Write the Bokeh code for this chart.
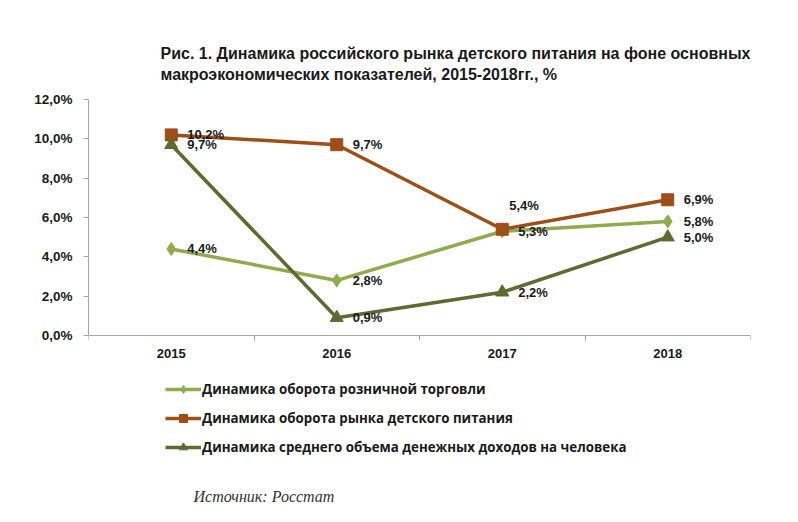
from bokeh.plotting import figure
from bokeh.models import (FixedTicker, Legend, LegendItem, ColumnDataSource, LabelSet, Label)
from bokeh.core.properties import value
from bokeh.embed import file_html
from bokeh.resources import INLINE

years = ["2015", "2016", "2017", "2018"]
retail = [4.4, 2.8, 5.3, 5.8]
babyfood = [10.2, 9.7, 5.4, 6.9]
income = [9.7, 0.9, 2.2, 5.0]
series_names = [
    "Динамика оборота розничной торговли",
    "Динамика оборота рынка детского питания",
    "Динамика среднего объема денежных доходов на человека",
]
y_ticks = [0, 2, 4, 6, 8, 10, 12]
title_lines = [
    "Рис. 1. Динамика российского рынка детского питания на фоне основных",
    "макроэкономических показателей, 2015-2018гг., %",
]
source_note = "Источник: Росстат"

colors = ["#8FAB4E", "#9E4E17", "#5C6B30"]
markers = ["diamond", "square", "triangle"]
marker_sizes = [13, 12, 13]

W, H = 798, 522
FL, FT, FB = 88, 0, 512   # frame left / top / bottom (canvas px)
Y12_PX, Y0_PX = 99, 335   # canvas px of value 12 and value 0
ppu = (Y0_PX - Y12_PX) / 12.0
y_hi = 12 + (Y12_PX - FT) / ppu
y_lo = -(FB - Y0_PX) / ppu

p = figure(width=W, height=H, output_backend="svg", toolbar_location=None,
           x_range=(-0.5, 3.5), y_range=(y_lo, y_hi), title=None,
           min_border_left=FL, min_border_right=48, min_border_top=FT, min_border_bottom=H - FB)
p.outline_line_color = None
p.grid.visible = False
p.background_fill_color = "white"
p.border_fill_color = "white"

xs = list(range(len(years)))
p.xaxis.fixed_location = 0
p.xaxis.ticker = FixedTicker(ticks=xs, minor_ticks=[i - 0.5 for i in range(len(years) + 1)])
p.xaxis.major_label_overrides = {i: y for i, y in enumerate(years)}
p.xaxis.major_tick_line_color = None
p.xaxis.minor_tick_in = 0
p.xaxis.minor_tick_out = 5
p.xaxis.minor_tick_line_color = "#A6A6A6"
p.xaxis.axis_line_color = "#A6A6A6"
p.xaxis.major_label_standoff = 7

p.yaxis.bounds = (0, 12)
p.yaxis.ticker = FixedTicker(ticks=y_ticks, minor_ticks=[])
p.yaxis.major_label_overrides = {t: f"{t:.1f}".replace(".", ",") + "%" for t in y_ticks}
p.yaxis.major_tick_in = 0
p.yaxis.major_tick_out = 5
p.yaxis.major_tick_line_color = "#A6A6A6"
p.yaxis.axis_line_color = "#A6A6A6"
p.yaxis.major_label_standoff = 11

for ax in (p.xaxis, p.yaxis):
    ax.major_label_text_font = "Liberation Sans"
    ax.major_label_text_font_style = "bold"
    ax.major_label_text_color = "#1a1a1a"
p.xaxis.major_label_text_font_size = "13px"
p.yaxis.major_label_text_font_size = "13.5px"

items = []
all_series = [retail, babyfood, income]
for vals, c, m, s, name in zip(all_series, colors, markers, marker_sizes, series_names):
    src = ColumnDataSource(dict(x=xs, y=vals))
    r1 = p.line("x", "y", source=src, line_color=c, line_width=3.5)
    r2 = p.scatter("x", "y", source=src, marker=m, size=s, fill_color=c, line_color=c)
    items.append(LegendItem(label=name, renderers=[r1, r2]))

# data labels
for k, (vals, c) in enumerate(zip(all_series, colors)):
    txt = [f"{v:.1f}".replace(".", ",") + "%" for v in vals]
    xo = [16] * len(vals)
    yo = [0] * len(vals)
    if k == 1:
        xo[2] = 7
        yo[2] = 24
    src = ColumnDataSource(dict(x=xs, y=vals, t=txt, xo=xo, yo=yo))
    ls = LabelSet(x="x", y="y", text="t", source=src, x_offset="xo", y_offset="yo",
                  text_font=value("Liberation Sans"), text_font_style="bold", text_font_size="13px",
                  text_color="#1a1a1a", text_baseline="middle", text_align="left")
    p.add_layout(ls)

legend = Legend(items=items, location=(165 - FL, FB - 379 - 78), orientation="vertical",
                label_text_font="Open Sans", label_text_font_style="bold",
                label_text_font_size="13.3px", label_text_color="#1a1a1a",
                glyph_width=36, glyph_height=20, spacing=9, label_standoff=1,
                padding=0, margin=0, border_line_color=None, background_fill_alpha=0)
p.add_layout(legend, "center")

# texts placed in screen units (relative to frame bottom-left, y up)
for i, line in enumerate(title_lines):
    p.add_layout(Label(x=160 - FL, y=FB - (53 + 21 * i), x_units="screen", y_units="screen",
                       text=line, text_font="Liberation Sans", text_font_style="bold",
                       text_font_size="16px", text_color="#1a1a1a", text_baseline="middle"))

p.add_layout(Label(x=193 - FL, y=FB - 496, x_units="screen", y_units="screen", text=source_note,
                   text_font="Liberation Serif", text_font_style="italic",
                   text_font_size="16px", text_color="#333333", text_baseline="middle"))

open("out.html", "w").write(file_html(p, INLINE))
